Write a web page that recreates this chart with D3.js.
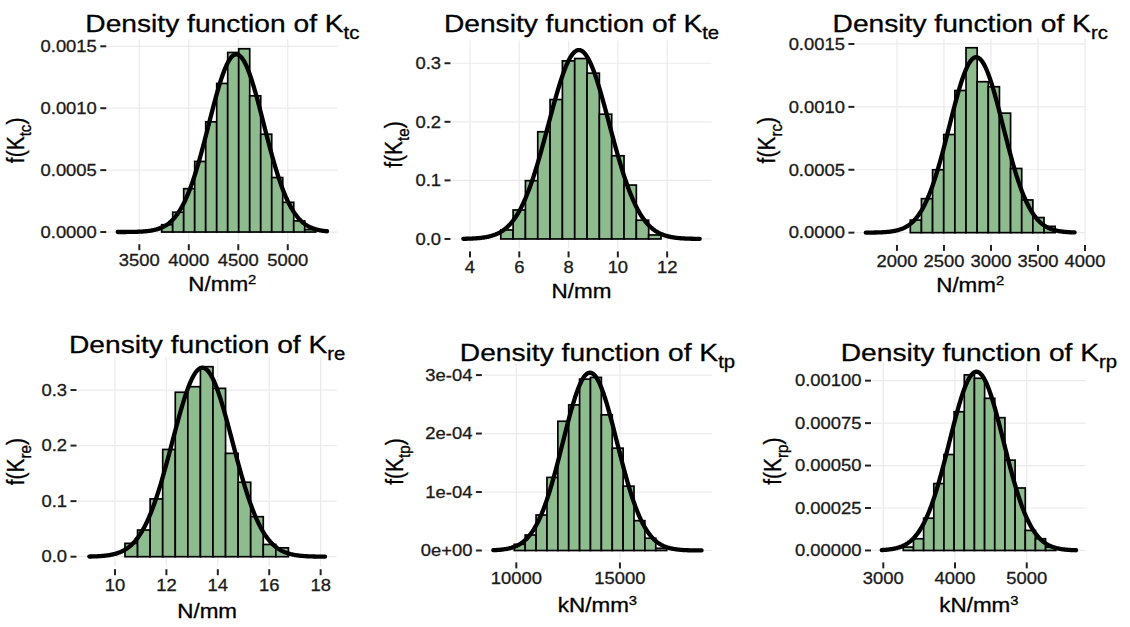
<!DOCTYPE html>
<html>
<head>
<meta charset="utf-8">
<script src="https://cdn.jsdelivr.net/npm/d3@7"></script>
<style>
  html, body { margin: 0; padding: 0; background: #ffffff; }
  svg { display: block; font-family: "Liberation Sans", Arial, Helvetica, sans-serif; }
</style>
</head>
<body>
<svg id="chart" width="1130" height="627"></svg>
<script>
// ---------- data ----------
// stiffness parameters, one panel each
const subscripts = ["tc", "te", "rc", "re", "tp", "rp"];
const unitBase   = ["N/mm", "N/mm", "N/mm", "N/mm", "kN/mm", "kN/mm"];
const unitPower  = ["2", "", "2", "", "3", "3"];

// histogram bins: left edge of the first bin and bin width
const binStarts = [3726, 5.25, 2142, 10.389, 9904, 3279];
const binWidths = [111.2, 0.5, 118.5, 0.489, 525, 141.7];

// histogram densities per bin
const densityTc = [0.000059, 0.00016, 0.00035, 0.00057, 0.00089, 0.00120, 0.00145,
                   0.00148, 0.00110, 0.00079, 0.00044, 0.00024, 0.00009, 0.00002];
const densityTe = [0.0154, 0.0495, 0.0995, 0.183, 0.238, 0.304, 0.308,
                   0.283, 0.213, 0.142, 0.092, 0.032, 0.0068];
const densityRc = [0.0001, 0.00027, 0.0005, 0.00078, 0.00113, 0.00147, 0.0012,
                   0.00116, 0.00095, 0.00051, 0.00026, 0.00012, 0.00005];
const densityRe = [0.024, 0.048, 0.104, 0.193, 0.296, 0.306, 0.342,
                   0.303, 0.186, 0.134, 0.072, 0.022, 0.016];
const densityTp = [1.06e-5, 2.65e-5, 6.07e-5, 1.25e-4, 2.21e-4, 2.49e-4, 2.93e-4,
                   2.96e-4, 2.32e-4, 1.75e-4, 1.10e-4, 5.1e-5, 2.1e-5, 3.8e-6];
const densityRp = [0.00002, 0.000069, 0.00019, 0.000394, 0.000565, 0.000817, 0.001034,
                   0.001014, 0.000896, 0.000782, 0.000532, 0.000368, 0.000118, 0.000069, 0.00002];
const densities = [densityTc, densityTe, densityRc, densityRe, densityTp, densityRp];

// fitted normal density: mean, standard deviation, and the sample range it spans
const fitMeans = [4480, 8.42, 2843, 13.4, 13553, 4300];
const fitSds   = [278, 1.237, 286, 1.173, 1312, 379];
const fitMin   = [3282, 3.73, 1669, 9.0, 8891, 2978];
const fitMax   = [5396, 13.32, 3889, 18.17, 18939, 5688];

// axis ticks
const xTicks = [
  [3500, 4000, 4500, 5000],
  [4, 6, 8, 10, 12],
  [2000, 2500, 3000, 3500, 4000],
  [10, 12, 14, 16, 18],
  [10000, 15000],
  [3000, 4000, 5000]
];
const yTicks = [
  [0, 0.0005, 0.001, 0.0015],
  [0, 0.1, 0.2, 0.3],
  [0, 0.0005, 0.001, 0.0015],
  [0, 0.1, 0.2, 0.3],
  [0, 1e-4, 2e-4, 3e-4],
  [0, 0.00025, 0.0005, 0.00075, 0.001]
];
const yTickLabels = [
  ["0.0000", "0.0005", "0.0010", "0.0015"],
  ["0.0", "0.1", "0.2", "0.3"],
  ["0.0000", "0.0005", "0.0010", "0.0015"],
  ["0.0", "0.1", "0.2", "0.3"],
  ["0e+00", "1e-04", "2e-04", "3e-04"],
  ["0.00000", "0.00025", "0.00050", "0.00075", "0.00100"]
];

// ---------- layout ----------
// panel boxes: [left, right, top, bottom]
const panelBoxes = [
  [107.3, 337.4, 39.6, 241.2],
  [451.5, 711.5, 40.6, 248.4],
  [855.4, 1085.0, 38.5, 241.9],
  [77.5, 336.8, 357.2, 566.2],
  [482.9, 712.0, 363.8, 559.4],
  [872.0, 1085.8, 362.8, 559.4]
];
const titleBaselines  = [31.7, 31.7, 31.7, 352.7, 360.5, 360.5];
const xTitleBaselines = [290.5, 298, 291.5, 618, 612, 612];
const yTitleCenters   = [16, 394, 767, 16, 395, 773];

const SX = 1.15;            // horizontal glyph stretch
const TITLE_SIZE = 24.5;
const X_TITLE_SIZE = 19.5;
const Y_TITLE_SIZE = 21;
const TICK_SIZE = 16;
const BAR_FILL = "#8FBC8F";
const GRID = "#EBEBEB";

const svg = d3.select("#chart");

// text with optional sub/superscript parts, stretched horizontally
function addText(parent, x, y, opts, parts) {
  let tf = `translate(${x},${y}) scale(${SX},1)`;
  if (opts.rotate) tf += ` rotate(${opts.rotate})`;
  const g = parent.append("g").attr("transform", tf);
  const t = g.append("text")
    .attr("text-anchor", opts.anchor || "middle")
    .attr("font-size", opts.size)
    .attr("fill", opts.fill || "#000")
    .attr("stroke", opts.fill || "#000")
    .attr("stroke-width", 0.3);
  if (opts.dy) t.attr("dy", opts.dy);
  let shift = 0;
  parts.forEach(p => {
    const ts = t.append("tspan").text(p.text);
    let target = 0;
    if (p.sub) { target = opts.size * 0.30; ts.attr("font-size", opts.size * 0.72); }
    else if (p.sup) { target = -opts.size * 0.34; ts.attr("font-size", opts.size * 0.66); }
    if (target !== shift) { ts.attr("dy", target - shift); shift = target; }
  });
  return g;
}

const normalPdf = (x, m, s) => Math.exp(-0.5 * ((x - m) / s) ** 2) / (s * Math.sqrt(2 * Math.PI));

subscripts.forEach((sub, i) => {
  const [left, right, top, bottom] = panelBoxes[i];
  const dens = densities[i];
  const peak = normalPdf(fitMeans[i], fitMeans[i], fitSds[i]);

  // 5% expansion of the data ranges
  const xr = fitMax[i] - fitMin[i];
  const x = d3.scaleLinear()
    .domain([fitMin[i] - 0.05 * xr, fitMax[i] + 0.05 * xr])
    .range([left, right]);
  const ymax = Math.max(d3.max(dens), peak);
  const y = d3.scaleLinear()
    .domain([-0.05 * ymax, ymax * 1.05])
    .range([bottom, top]);

  const g = svg.append("g").attr("class", "panel-" + sub);

  // grid
  g.append("g").selectAll("line").data(yTicks[i]).join("line")
    .attr("x1", left).attr("x2", right)
    .attr("y1", d => y(d)).attr("y2", d => y(d))
    .attr("stroke", GRID).attr("stroke-width", 1.2);
  g.append("g").selectAll("line").data(xTicks[i]).join("line")
    .attr("x1", d => x(d)).attr("x2", d => x(d))
    .attr("y1", top).attr("y2", bottom)
    .attr("stroke", GRID).attr("stroke-width", 1.2);

  // histogram bars
  g.append("g").selectAll("rect").data(dens).join("rect")
    .attr("x", (d, k) => x(binStarts[i] + k * binWidths[i]))
    .attr("width", (d, k) => x(binStarts[i] + (k + 1) * binWidths[i]) - x(binStarts[i] + k * binWidths[i]))
    .attr("y", d => y(d))
    .attr("height", d => y(0) - y(d))
    .attr("fill", BAR_FILL)
    .attr("stroke", "#000")
    .attr("stroke-width", 1.7);

  // fitted normal density
  const xs = d3.range(0, 301).map(k => fitMin[i] + (fitMax[i] - fitMin[i]) * k / 300);
  g.append("path")
    .datum(xs)
    .attr("d", d3.line().x(v => x(v)).y(v => y(normalPdf(v, fitMeans[i], fitSds[i]))))
    .attr("fill", "none")
    .attr("stroke", "#000")
    .attr("stroke-width", 4.3)
    .attr("stroke-linejoin", "round")
    .attr("stroke-linecap", "round");

  // axis ticks
  g.append("g").selectAll("line").data(yTicks[i]).join("line")
    .attr("x1", left - 7).attr("x2", left - 1)
    .attr("y1", d => y(d)).attr("y2", d => y(d))
    .attr("stroke", "#222").attr("stroke-width", 2);
  g.append("g").selectAll("line").data(xTicks[i]).join("line")
    .attr("x1", d => x(d)).attr("x2", d => x(d))
    .attr("y1", bottom + 3).attr("y2", bottom + 9)
    .attr("stroke", "#222").attr("stroke-width", 2);

  // tick labels
  yTicks[i].forEach((t, k) => {
    addText(g, left - 10.5, y(t), { anchor: "end", size: TICK_SIZE, dy: "0.36em", fill: "#1a1a1a" },
      [{ text: yTickLabels[i][k] }]);
  });
  xTicks[i].forEach(t => {
    addText(g, x(t), bottom + 25, { anchor: "middle", size: TICK_SIZE, fill: "#1a1a1a" },
      [{ text: String(t) }]);
  });

  // titles
  addText(g, (left + right) / 2, titleBaselines[i], { anchor: "middle", size: TITLE_SIZE },
    [{ text: "Density function of K" }, { text: sub, sub: true }]);
  const xTitleParts = [{ text: unitBase[i] }];
  if (unitPower[i]) xTitleParts.push({ text: unitPower[i], sup: true });
  addText(g, (left + right) / 2, xTitleBaselines[i], { anchor: "middle", size: X_TITLE_SIZE }, xTitleParts);
  addText(g, yTitleCenters[i] + 7.5, (top + bottom) / 2, { anchor: "middle", size: Y_TITLE_SIZE, rotate: -90 },
    [{ text: "f(K" }, { text: sub, sub: true }, { text: ")" }]);
});
</script>
</body>
</html>
